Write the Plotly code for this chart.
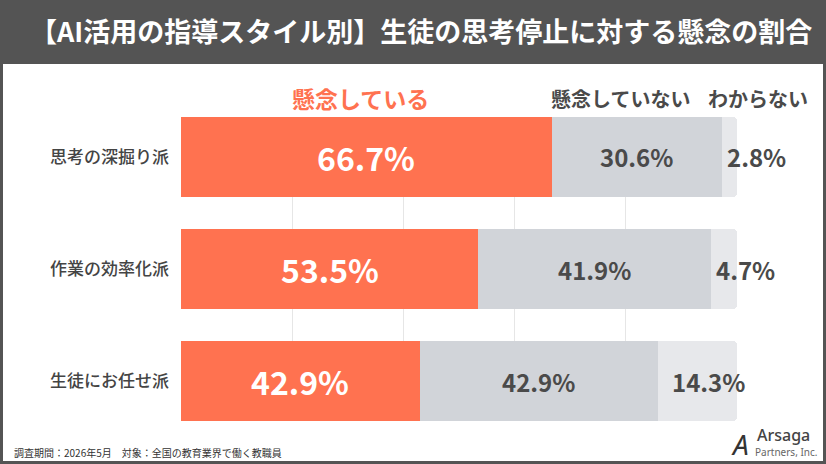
import plotly.graph_objects as go

categories = ["思考の深掘り派", "作業の効率化派", "生徒にお任せ派"]
series_names = ["懸念している", "懸念していない", "わからない"]
concerned = [66.7, 53.5, 42.9]
not_concerned = [30.6, 41.9, 42.9]
unknown = [2.8, 4.7, 14.3]

title_text = "【AI活用の指導スタイル別】生徒の思考停止に対する懸念の割合"
footer_text = "調査期間：2026年5月　対象：全国の教育業界で働く教職員"

ORANGE = "#FF7250"
GRAY = "#D1D4D9"
LIGHT = "#E7E8EB"
DARK = "#545454"
TEXT = "#4A4A4A"
FONT = "Noto Sans CJK JP"

W, H = 826, 464
L, R, T, B = 181, 89, 117, 43
pw, ph = W - L - R, H - T - B


def px_x(x):
    return (x - L) / pw


def px_y(y):
    return (H - B - y) / ph


fig = go.Figure()
for name, vals, col in [(series_names[0], concerned, ORANGE),
                        (series_names[1], not_concerned, GRAY),
                        (series_names[2], unknown, LIGHT)]:
    fig.add_trace(go.Bar(
        y=categories, x=vals, name=name, orientation="h",
        marker=dict(color=col, line=dict(width=0)),
        hoverinfo="skip", showlegend=False,
    ))

annotations = []
for i, cat in enumerate(categories):
    a, b, c = concerned[i], not_concerned[i], unknown[i]
    annotations.append(dict(x=a / 2, y=cat, xref="x", yref="y",
                            xanchor="center", yanchor="middle",
                            text=f"{a:.1f}%", showarrow=False,
                            font=dict(family=FONT, size=32, color="white", weight="bold")))
    annotations.append(dict(x=a + b / 2, y=cat, xref="x", yref="y",
                            xanchor="center", yanchor="middle",
                            text=f"{b:.1f}%", showarrow=False,
                            font=dict(family=FONT, size=24, color=TEXT, weight="bold")))
    start = a + b
    if c < 10:
        annotations.append(dict(x=start + 0.5, y=cat, xref="x", yref="y",
                                xanchor="left", yanchor="middle",
                                text=f"{c:.1f}%", showarrow=False,
                                font=dict(family=FONT, size=24, color=TEXT, weight="bold")))
    else:
        annotations.append(dict(x=start + c / 2 + 2, y=cat, xref="x", yref="y",
                                xanchor="center", yanchor="middle",
                                text=f"{c:.1f}%", showarrow=False,
                                font=dict(family=FONT, size=24, color=TEXT, weight="bold")))


def paper_text(xp, yp, text, font, xanchor="center"):
    annotations.append(dict(x=px_x(xp), y=px_y(yp), xref="paper", yref="paper",
                            xanchor=xanchor, yanchor="middle", text=text,
                            showarrow=False, font=font))


# series header labels
paper_text(360, 98, series_names[0], dict(family=FONT, size=23, color=ORANGE, weight="bold"))
paper_text(620, 98, series_names[1], dict(family=FONT, size=20, color=TEXT, weight="bold"))
paper_text(758, 98, series_names[2], dict(family=FONT, size=20, color=TEXT, weight="bold"))

# title
paper_text(421, 31, title_text, dict(family=FONT, size=27, color="white", weight="bold"))
# footer
paper_text(12, 453, footer_text, dict(family=FONT, size=10, color="#333333"), xanchor="left")
# logo
paper_text(755, 435, "Arsaga", dict(family="Noto Sans", size=16, color="#444444", weight=500), xanchor="left")
paper_text(753, 452, "Partners, Inc.", dict(family="Noto Sans", size=10, color="#666666"), xanchor="left")
paper_text(740, 444, "<i>A</i>", dict(family="Noto Sans", size=28, color="#333333"))

shapes = [
    dict(type="rect", xref="paper", yref="paper", x0=px_x(0), x1=px_x(W),
         y0=px_y(64), y1=px_y(0), fillcolor=DARK, line=dict(width=0), layer="below"),
    dict(type="rect", xref="paper", yref="paper", x0=px_x(0), x1=px_x(3),
         y0=px_y(H), y1=px_y(64), fillcolor=DARK, line=dict(width=0), layer="above"),
    dict(type="rect", xref="paper", yref="paper", x0=px_x(W - 3), x1=px_x(W),
         y0=px_y(H), y1=px_y(64), fillcolor=DARK, line=dict(width=0), layer="above"),
    dict(type="rect", xref="paper", yref="paper", x0=px_x(0), x1=px_x(W),
         y0=px_y(H), y1=px_y(H - 3), fillcolor=DARK, line=dict(width=0), layer="above"),
]

fig.update_layout(
    width=W, height=H,
    margin=dict(l=L, r=R, t=T, b=B, pad=0),
    paper_bgcolor="white", plot_bgcolor="white",
    barmode="stack", bargap=0.2857, barcornerradius=5,
    showlegend=False,
    annotations=annotations, shapes=shapes,
    xaxis=dict(range=[0, 100], dtick=20, showgrid=True, gridcolor="#E6E6E6",
               gridwidth=1, showticklabels=False, zeroline=False, fixedrange=True),
    yaxis=dict(categoryorder="array", categoryarray=categories,
               range=[2.357, -0.357], showgrid=False, zeroline=False,
               ticks="", ticklabelstandoff=11,
               tickfont=dict(family=FONT, size=17, color="#444444", weight=500)),
)

fig.write_html("out.html")
